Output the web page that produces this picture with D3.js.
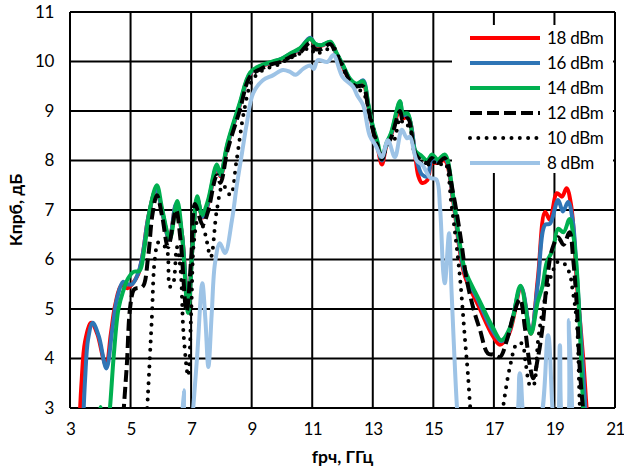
<!DOCTYPE html>
<html>
<head>
<meta charset="utf-8">
<script src="https://cdn.jsdelivr.net/npm/d3@7"></script>
<style>
  html, body { margin: 0; padding: 0; background: #fff; }
  svg { display: block; }
  text { font-family: Lato, "Open Sans", "Liberation Sans", sans-serif; fill: #000; }
</style>
</head>
<body>
<svg id="chart" width="624" height="475"></svg>
<script>
// Conversion gain vs RF frequency for six LO power levels: [f, GHz ; K, dB]
const p18 = [[3.30,2.5],[3.38,3.5],[3.5,4.35],[3.7,4.72],[3.9,4.5],[4.1,4.0],[4.2,3.85],[4.35,4.5],[4.5,5.1],[4.7,5.48],[4.9,5.42],[5.05,5.5],[5.25,5.7],[5.4,6.1],[5.6,6.9],[5.85,7.42],[6.05,6.95],[6.28,6.4],[6.5,7.1],[6.7,6.5],[6.9,5.0],[7.05,6.3],[7.2,7.22],[7.38,6.85],[7.55,7.1],[7.85,7.85],[7.97,7.68],[8.2,8.3],[8.6,9.1],[8.95,9.75],[9.3,9.9],[9.7,9.98],[10.0,10.05],[10.3,10.15],[10.6,10.25],[10.93,10.47],[11.1,10.33],[11.3,10.32],[11.6,10.38],[11.8,10.15],[12.0,9.9],[12.25,9.62],[12.45,9.5],[12.68,9.55],[12.85,9.1],[13.0,8.65],[13.15,8.3],[13.3,7.92],[13.45,8.3],[13.6,8.5],[13.9,9.05],[14.0,8.85],[14.16,8.88],[14.4,8.1],[14.5,7.7],[14.62,7.55],[14.8,7.6],[14.95,7.95],[15.15,7.95],[15.38,8.0],[15.65,7.2],[15.88,6.15],[16.05,5.65],[16.5,5.05],[16.97,4.45],[17.2,4.28],[17.5,4.5],[17.9,5.42],[18.22,4.5],[18.45,5.6],[18.69,6.96],[18.85,6.8],[19.08,7.34],[19.25,7.27],[19.4,7.44],[19.55,7.1],[19.75,5.45],[19.95,4.0],[20.06,3.0],[20.12,2.5]];

const p16 = [[3.42,2.5],[3.5,3.6],[3.6,4.4],[3.75,4.72],[3.95,4.45],[4.2,3.8],[4.4,4.6],[4.55,5.2],[4.75,5.55],[4.9,5.5],[5.05,5.5],[5.25,5.72],[5.4,6.1],[5.6,6.9],[5.85,7.42],[6.05,6.95],[6.28,6.4],[6.5,7.12],[6.7,6.5],[6.9,5.0],[7.05,6.3],[7.2,7.24],[7.38,6.86],[7.55,7.12],[7.85,7.87],[7.97,7.7],[8.2,8.32],[8.6,9.12],[8.95,9.76],[9.3,9.91],[9.7,9.99],[10.0,10.06],[10.3,10.16],[10.6,10.26],[10.93,10.48],[11.1,10.35],[11.3,10.33],[11.6,10.38],[11.8,10.16],[12.0,9.93],[12.25,9.63],[12.45,9.52],[12.68,9.62],[12.85,9.12],[13.0,8.68],[13.15,8.35],[13.3,8.0],[13.45,8.32],[13.6,8.52],[13.9,9.18],[14.0,8.92],[14.16,8.92],[14.4,8.15],[14.5,7.9],[14.62,7.72],[14.8,7.68],[14.95,8.0],[15.15,7.98],[15.38,8.05],[15.65,7.25],[15.88,6.22],[16.05,5.72],[16.5,5.15],[16.97,4.55],[17.25,4.35],[17.5,4.55],[17.9,5.45],[18.22,4.52],[18.45,5.5],[18.69,6.7],[18.85,6.72],[19.12,7.2],[19.28,6.97],[19.45,7.16],[19.6,6.8],[19.75,5.6],[19.9,4.2],[20.02,3.0],[20.08,2.5]];

const p14 = [[3.93,2.7],[4.0,3.02],[4.08,2.7],[4.25,2.6],[4.32,3.0],[4.45,4.1],[4.6,5.0],[4.75,5.35],[4.92,5.62],[5.1,5.75],[5.3,5.77],[5.45,6.2],[5.65,7.05],[5.87,7.5],[6.05,7.0],[6.3,6.42],[6.54,7.18],[6.7,6.5],[6.9,4.92],[7.05,6.3],[7.2,7.28],[7.36,6.9],[7.55,7.18],[7.85,7.92],[7.97,7.72],[8.2,8.35],[8.6,9.15],[8.95,9.78],[9.3,9.92],[9.7,10.0],[10.0,10.06],[10.3,10.17],[10.6,10.27],[10.93,10.46],[11.1,10.36],[11.3,10.33],[11.6,10.4],[11.8,10.18],[12.0,9.95],[12.25,9.65],[12.45,9.55],[12.68,9.6],[12.85,9.15],[13.0,8.7],[13.15,8.4],[13.3,8.05],[13.45,8.35],[13.6,8.55],[13.9,9.2],[14.0,8.95],[14.16,8.95],[14.4,8.2],[14.6,8.1],[14.8,8.0],[14.95,8.12],[15.15,8.02],[15.38,8.12],[15.65,7.3],[15.88,6.3],[16.05,5.78],[16.5,5.2],[16.97,4.62],[17.25,4.37],[17.55,4.65],[17.88,5.47],[18.22,4.5],[18.45,5.15],[18.6,5.45],[18.75,5.95],[18.95,6.2],[19.12,6.62],[19.3,6.55],[19.5,6.82],[19.62,6.5],[19.75,5.7],[19.94,3.1],[20.0,2.5]];

const p12 = [[4.72,2.5],[4.8,3.2],[4.88,3.9],[4.98,5.0],[5.1,5.38],[5.2,5.42],[5.4,5.45],[5.58,6.05],[5.72,6.9],[5.87,7.3],[6.05,6.85],[6.24,6.25],[6.5,7.0],[6.65,6.4],[6.85,4.95],[7.0,6.0],[7.13,7.12],[7.38,6.7],[7.55,6.95],[7.85,7.7],[7.97,7.55],[8.2,8.2],[8.6,9.0],[8.95,9.7],[9.3,9.85],[9.7,9.95],[10.0,10.0],[10.3,10.1],[10.6,10.18],[10.93,10.38],[11.1,10.25],[11.3,10.25],[11.6,10.35],[11.8,10.12],[12.0,9.92],[12.25,9.6],[12.45,9.5],[12.68,9.5],[12.85,9.05],[13.0,8.62],[13.15,8.3],[13.3,8.02],[13.45,8.3],[13.6,8.45],[13.9,9.0],[14.0,8.8],[14.16,8.85],[14.4,8.15],[14.6,8.0],[14.8,7.95],[14.95,8.05],[15.15,7.95],[15.38,8.05],[15.65,7.35],[15.9,6.45],[16.1,5.6],[16.35,4.95],[16.54,4.58],[16.8,4.1],[17.0,4.08],[17.2,4.03],[17.43,4.37],[17.63,4.84],[17.86,5.2],[18.03,4.6],[18.19,3.85],[18.3,3.6],[18.45,4.0],[18.6,4.6],[18.75,5.55],[18.92,6.2],[19.12,6.45],[19.3,6.3],[19.5,6.55],[19.62,6.0],[19.74,5.05],[19.84,3.75],[19.94,3.0],[20.0,2.5]];

const p10 = [[5.5,2.5],[5.55,3.0],[5.7,4.78],[5.8,6.0],[5.92,6.35],[6.05,6.3],[6.2,6.2],[6.3,5.45],[6.4,5.5],[6.53,6.25],[6.65,5.8],[6.75,4.5],[6.9,3.65],[7.0,4.9],[7.1,6.4],[7.25,6.85],[7.45,6.55],[7.65,6.05],[7.85,7.0],[8.05,7.5],[8.3,7.3],[8.5,8.0],[8.75,9.0],[9.0,9.6],[9.3,9.8],[9.6,9.88],[9.93,9.95],[10.2,10.05],[10.5,10.13],[10.93,10.27],[11.1,10.15],[11.26,10.18],[11.5,10.25],[11.7,10.28],[11.9,10.05],[12.1,9.75],[12.3,9.55],[12.5,9.45],[12.7,9.35],[12.9,8.95],[13.1,8.45],[13.3,8.1],[13.5,8.3],[13.7,8.4],[13.9,8.85],[14.05,8.7],[14.2,8.7],[14.4,8.1],[14.6,7.95],[14.8,7.9],[14.95,8.0],[15.15,7.9],[15.38,7.95],[15.6,7.1],[15.8,6.1],[15.9,5.5],[16.05,4.35],[16.14,3.7],[16.22,3.0],[16.3,2.5],[16.8,2.3],[17.2,2.5],[17.3,3.0],[17.53,3.83],[17.76,4.3],[17.93,4.3],[18.05,3.9],[18.2,3.45],[18.3,3.45],[18.46,4.37],[18.59,4.9],[18.75,5.38],[18.96,5.79],[19.1,5.95],[19.3,5.93],[19.5,5.72],[19.6,5.38],[19.74,4.72],[19.84,3.0],[19.9,2.5]];

const p8 = [[6.68,2.5],[6.76,3.36],[6.84,2.5],[7.0,2.5],[7.07,3.0],[7.2,4.05],[7.37,5.52],[7.47,4.8],[7.57,3.83],[7.68,4.9],[7.79,5.93],[7.95,6.33],[8.12,6.13],[8.35,6.8],[8.5,7.46],[8.68,8.15],[8.84,8.75],[9.05,9.36],[9.37,9.62],[9.7,9.72],[10.03,9.83],[10.27,9.79],[10.45,9.73],[10.7,9.85],[10.93,9.92],[11.05,9.85],[11.19,10.03],[11.5,9.99],[11.7,10.13],[12.0,9.69],[12.35,9.49],[12.5,9.3],[12.68,9.12],[12.9,8.5],[13.1,8.3],[13.3,8.07],[13.5,8.41],[13.73,8.07],[13.96,8.62],[14.13,8.45],[14.23,8.48],[14.45,8.0],[14.65,7.9],[14.9,7.65],[15.1,7.62],[15.22,7.06],[15.33,5.72],[15.38,5.52],[15.52,6.53],[15.6,5.38],[15.78,3.02],[15.85,2.5],[16.8,2.4],[17.62,2.5],[17.86,3.7],[18.1,2.5],[18.46,2.6],[18.79,4.47],[19.02,2.6],[19.08,2.6],[19.18,4.27],[19.3,2.6],[19.4,2.6],[19.48,4.78],[19.6,2.6]];

const seriesNames = ["18 dBm", "16 dBm", "14 dBm", "12 dBm", "10 dBm", "8 dBm"];
const seriesPoints = [p18, p16, p14, p12, p10, p8];
const seriesColors = ["#FF0000", "#2E75B6", "#00B050", "#000000", "#000000", "#9DC3E6"];
const seriesDash = [null, null, null, "12,5", "0,8.3", null];

const xTicks = [3, 5, 7, 9, 11, 13, 15, 17, 19, 21];
const yTicks = [3, 4, 5, 6, 7, 8, 9, 10, 11];
const xTitle = "fрч, ГГц";
const yTitle = "Кпрб, дБ";

const svg = d3.select("#chart");
const plotL = 70, plotR = 615, plotT = 12, plotB = 408;

const x = d3.scaleLinear().domain([3, 21]).range([plotL, plotR]);
const y = d3.scaleLinear().domain([3, 11]).range([plotB, plotT]);

// grid
const grid = svg.append("g").attr("stroke", "#000").attr("stroke-width", 2);
grid.selectAll("line.h").data(yTicks).join("line").attr("class", "h")
  .attr("x1", plotL).attr("x2", plotR)
  .attr("y1", d => y(d)).attr("y2", d => y(d));
grid.selectAll("line.v").data(xTicks).join("line").attr("class", "v")
  .attr("y1", plotT).attr("y2", plotB)
  .attr("x1", d => x(d)).attr("x2", d => x(d));

// tick labels via axis generators, with the axis lines hidden
const fs = "17px";
const gx = svg.append("g").attr("transform", `translate(0,${plotB})`)
  .call(d3.axisBottom(x).tickValues(xTicks).tickSize(0).tickPadding(15).tickFormat(d3.format("d")));
gx.select(".domain").remove();
gx.selectAll("text").attr("font-size", fs).attr("letter-spacing", "-0.6px").style("font-family", "Lato, sans-serif");

const gy = svg.append("g").attr("transform", `translate(${plotL},0)`)
  .call(d3.axisLeft(y).tickValues(yTicks).tickSize(0).tickPadding(16).tickFormat(d3.format("d")));
gy.select(".domain").remove();
gy.selectAll("text").attr("font-size", fs).attr("letter-spacing", "-0.4px").style("font-family", "Lato, sans-serif");

// series
svg.append("clipPath").attr("id", "plot-clip")
  .append("rect").attr("x", plotL).attr("y", plotT - 4).attr("width", plotR - plotL).attr("height", plotB - plotT + 4);

const line = d3.line()
  .x(d => x(d[0])).y(d => y(d[1]))
  .curve(d3.curveCatmullRom.alpha(0.5));

const lines = svg.append("g").attr("clip-path", "url(#plot-clip)");
seriesPoints.forEach((pts, i) => {
  lines.append("path")
    .datum(pts)
    .attr("fill", "none")
    .attr("stroke", seriesColors[i])
    .attr("stroke-width", 4)
    .attr("stroke-linejoin", "round")
    .attr("stroke-linecap", seriesDash[i] === "0,8.3" ? "round" : "butt")
    .attr("stroke-dasharray", seriesDash[i])
    .attr("d", line);
});

// legend
const lg = svg.append("g");
lg.append("rect").attr("x", 452).attr("y", 25).attr("width", 161).attr("height", 148).attr("fill", "#fff");
seriesNames.forEach((name, i) => {
  const yy = 38 + i * 25;
  lg.append("line")
    .attr("x1", 470).attr("x2", 540).attr("y1", yy).attr("y2", yy)
    .attr("stroke", seriesColors[i]).attr("stroke-width", 4)
    .attr("stroke-linecap", seriesDash[i] === "0,8.3" ? "round" : "butt")
    .attr("stroke-dasharray", seriesDash[i]);
  lg.append("text").attr("x", 547).attr("y", yy).attr("dy", "0.36em")
    .attr("font-size", fs).attr("letter-spacing", "-0.3px").text(name);
});

// axis titles
svg.append("text").attr("x", (plotL + plotR) / 2).attr("y", 463)
  .attr("text-anchor", "middle").attr("font-size", "17.5px").attr("font-weight", "bold").text(xTitle);
svg.append("text").attr("transform", `translate(22,${(plotT + plotB) / 2}) rotate(-90)`)
  .attr("text-anchor", "middle").attr("font-size", "17.5px").attr("font-weight", "bold").text(yTitle);
</script>
</body>
</html>
